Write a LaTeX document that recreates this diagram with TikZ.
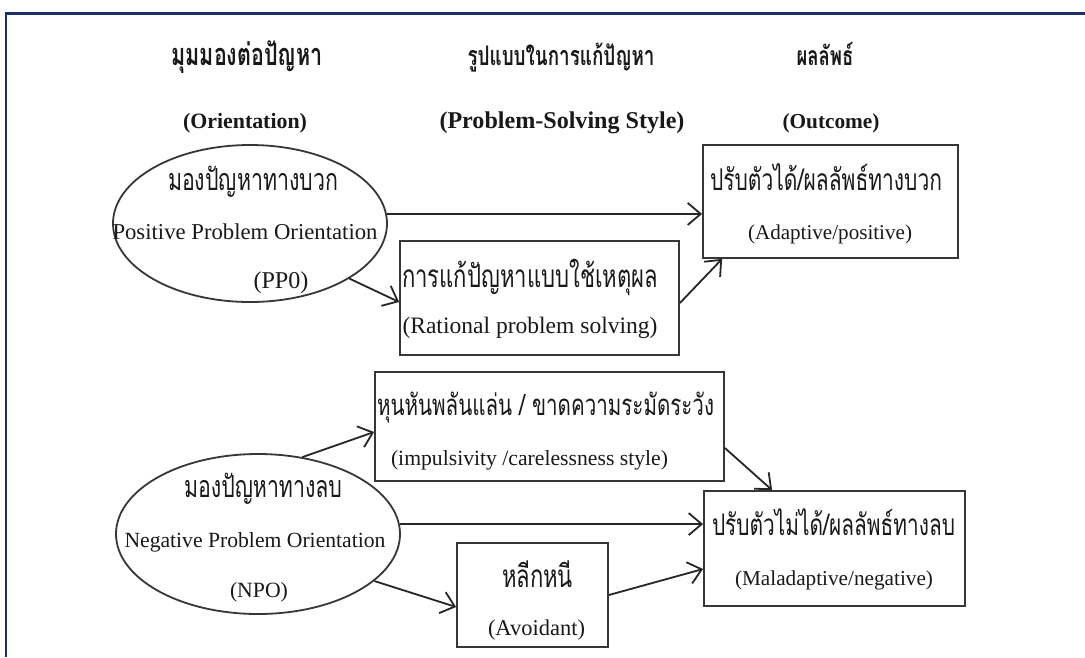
\documentclass[tikz,border=0pt]{standalone}
\usepackage{fontspec}
\setmainfont{Liberation Serif}
\newfontfamily\thai[Script=Thai,FakeStretch=0.7]{Loma}
\usetikzlibrary{arrows.meta,shapes.geometric}
\definecolor{framec}{RGB}{28,48,112}
\definecolor{linec}{RGB}{55,55,55}
\newlength\fitlen
\newcommand\fitto[3]{%
  \setbox0\hbox{#1\fontsize{10}{12}\selectfont #3}%
  \fitlen=\wd0
  \pgfmathsetmacro\myfsz{10*#2/\fitlen}%
  {#1\fontsize{\myfsz}{\myfsz}\selectfont #3}}
\tikzset{
  boxn/.style={draw=linec, line width=1.8pt, rectangle, inner sep=0pt},
  elln/.style={draw=linec, line width=1.8pt, ellipse, inner sep=0pt},
  arr/.style={draw=black!85, line width=1.8pt, -{Straight Barb[length=13pt,width=22pt]}},
  tb/.style={inner sep=0pt, anchor=base, text=black!90},
  te/.style={inner sep=0pt, anchor=center, text=black!90}
}
\begin{document}
\begin{tikzpicture}[x=1pt,y=-1pt]
\useasboundingbox (0,0) rectangle (1085,657);
\fill[white] (0,0) rectangle (1085,657);
% frame
\draw[framec, line width=2.6pt] (6,657) -- (6,13.5) -- (1085,13.5);
% headings
\node[tb] (h1th) at (247,65) {\fitto{\thai\bfseries}{151}{มุมมองต่อปัญหา}};
\node[te] (h1en) at (245,123) {\fitto{\bfseries}{124}{(Orientation)}};
\node[tb] (h2th) at (561,65) {\fitto{\thai\bfseries}{187}{รูปแบบในการแก้ปัญหา}};
\node[te] (h2en) at (562,123) {\fitto{\bfseries}{245}{(Problem-Solving Style)}};
\node[tb] (h3th) at (825,65) {\fitto{\thai\bfseries}{57}{ผลลัพธ์}};
\node[te] (h3en) at (831,123) {\fitto{\bfseries}{97}{(Outcome)}};
% shapes
\node[elln, minimum width=274pt, minimum height=157pt] (ppo) at (250,223.5) {};
\node[elln, minimum width=284pt, minimum height=160pt] (npo) at (258,534) {};
\node[boxn, minimum width=279pt, minimum height=114pt] (rat) at (539.5,298) {};
\node[boxn, minimum width=255pt, minimum height=113pt] (ada) at (830.5,201.5) {};
\node[boxn, minimum width=349pt, minimum height=109pt] (imp) at (549.5,426.5) {};
\node[boxn, minimum width=261pt, minimum height=115pt] (mal) at (834.5,548.5) {};
\node[boxn, minimum width=151pt, minimum height=104pt] (avo) at (532.5,595) {};
% texts
\node[tb] (ppoth) at (253,190) {\fitto{\thai}{170}{มองปัญหาทางบวก}};
\node[te] (ppoen) at (245,232) {\fitto{\rmfamily}{265}{Positive Problem Orientation}};
\node[te] (ppoab) at (281,283) {\fitto{\rmfamily}{55}{(PP0)}};
\node[tb] (ratth) at (530,287) {\fitto{\thai}{256}{การแก้ปัญหาแบบใช้เหตุผล}};
\node[te] (raten) at (530,328) {\fitto{\rmfamily}{255}{(Rational problem solving)}};
\node[tb] (adath) at (826,190) {\fitto{\thai}{232}{ปรับตัวได้/ผลลัพธ์ทางบวก}};
\node[te] (adaen) at (830,234) {\fitto{\rmfamily}{164}{(Adaptive/positive)}};
\node[tb] (impth) at (545.5,415) {\fitto{\thai}{337}{หุนหันพลันแล่น / ขาดความระมัดระวัง}};
\node[te] (impen) at (529.5,460) {\fitto{\rmfamily}{277}{(impulsivity /carelessness style)}};
\node[tb] (npoth) at (263,497) {\fitto{\thai}{158}{มองปัญหาทางลบ}};
\node[te] (npoen) at (255,542) {\fitto{\rmfamily}{261}{Negative Problem Orientation}};
\node[te] (npoab) at (259,592) {\fitto{\rmfamily}{58}{(NPO)}};
\node[tb] (avoth) at (537.5,587) {\fitto{\thai}{71}{หลีกหนี}};
\node[te] (avoen) at (536.5,630) {\fitto{\rmfamily}{97}{(Avoidant)}};
\node[tb] (malth) at (833.5,535) {\fitto{\thai}{243}{ปรับตัวไม่ได้/ผลลัพธ์ทางลบ}};
\node[te] (malen) at (834,580) {\fitto{\rmfamily}{198}{(Maladaptive/negative)}};
% arrows
\draw[arr] (ppo.4) -- (ppo.4 -| ada.west);
\draw[arr] (ppo.-29) -- ([yshift=-4pt]rat.west);
\draw[arr] ([yshift=-5pt]rat.east) -- ([xshift=20pt]ada.south west);
\draw[arr] (npo.60) -- ([yshift=-5.5pt]imp.west);
\draw[arr] ([yshift=-21.5pt]imp.east) -- ([xshift=69pt]mal.north west);
\draw[arr] (npo.4.5) -- (npo.4.5 -| mal.west);
\draw[arr] (npo.-22) -- ([yshift=-12pt]avo.west);
\draw[arr] (avo.east) -- ([yshift=-20.5pt]mal.west);
\end{tikzpicture}
\end{document}
